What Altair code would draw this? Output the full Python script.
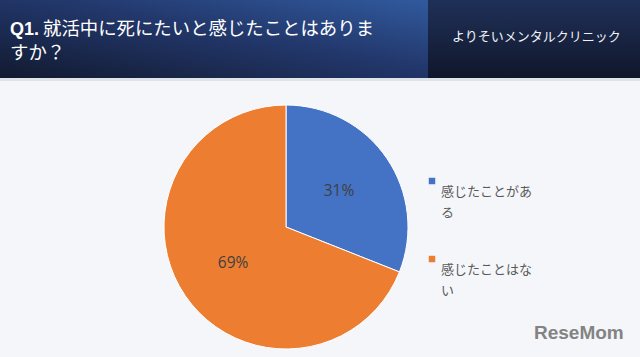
import altair as alt
import pandas as pd

# ---- data ----
categories = ["感じたことがある", "感じたことはない"]
values = [31, 69]
colors = ["#4472c4", "#ed7d31"]
title_bold = "Q1."
title_line1 = "就活中に死にたいと感じたことはありま"
title_line2 = "すか？"
source_label = "よりそいメンタルクリニック"
watermark = "ReseMom"

df = pd.DataFrame({
    "category": categories,
    "value": values,
    "order": list(range(len(categories))),
})
df["pct"] = (df["value"] / df["value"].sum() * 100).round().astype(int).astype(str) + "%"
df["wrapped"] = [c[:7] + "\n" + c[7:] for c in categories]

JP = "Noto Sans CJK JP"
CX, CY, R = 286, 227, 122

color_scale = alt.Scale(domain=categories, range=colors)

one = alt.Data(values=[{}])

# header blocks
head_left = alt.Chart(one).mark_rect(
    color=alt.LinearGradient(
        gradient="linear", x1=0, y1=1, x2=1, y2=0,
        stops=[alt.GradientStop(offset=0, color="#121a30"),
               alt.GradientStop(offset=0.55, color="#22376b"),
               alt.GradientStop(offset=1, color="#315a9e")])
).encode(x=alt.value(0), x2=alt.value(428), y=alt.value(0), y2=alt.value(78))

head_right = alt.Chart(one).mark_rect(
    color=alt.LinearGradient(
        gradient="linear", x1=0, y1=0, x2=0, y2=1,
        stops=[alt.GradientStop(offset=0, color="#1f3058"),
               alt.GradientStop(offset=1, color="#10172b")])
).encode(x=alt.value(428), x2=alt.value(640), y=alt.value(0), y2=alt.value(78))

head_line = alt.Chart(one).mark_rect(color="#dfe4ea").encode(
    x=alt.value(0), x2=alt.value(640), y=alt.value(78), y2=alt.value(81))

t_bold = alt.Chart(one).mark_text(
    text=title_bold, font="Liberation Sans", fontWeight="bold", fontSize=18,
    color="white", align="left", baseline="middle"
).encode(x=alt.value(10), y=alt.value(30))

t_line1 = alt.Chart(one).mark_text(
    text=title_line1, font=JP, fontSize=18.4, color="white",
    align="left", baseline="middle"
).encode(x=alt.value(43), y=alt.value(29))

t_line2 = alt.Chart(one).mark_text(
    text=title_line2, font=JP, fontSize=18.4, color="white",
    align="left", baseline="middle"
).encode(x=alt.value(10), y=alt.value(53))

t_source = alt.Chart(one).mark_text(
    text=source_label, font=JP, fontSize=13, color="#f0f2f6",
    align="left", baseline="middle"
).encode(x=alt.value(452), y=alt.value(37))

# pie
base = alt.Chart(df).encode(
    theta=alt.Theta("value:Q", stack=True),
    order=alt.Order("order:Q"),
)

pie = base.mark_arc(outerRadius=R, stroke="white", strokeWidth=1).encode(
    color=alt.Color("category:N", scale=color_scale, legend=None),
    x=alt.value(CX), y=alt.value(CY),
)

labels = base.mark_text(
    radius=64, font="Open Sans", fontSize=15.5, color="#404040"
).encode(text="pct:N", x=alt.value(CX), y=alt.value(CY))

# custom legend
leg_y = alt.Y("category:N", scale=alt.Scale(type="point", domain=categories,
                                              range=[181, 259], padding=0), axis=None)
leg_sq = alt.Chart(df).mark_square(size=42, opacity=1).encode(
    x=alt.value(432), y=leg_y,
    color=alt.Color("category:N", scale=color_scale, legend=None),
)
leg_txt = alt.Chart(df).mark_text(
    font=JP, fontSize=13, color="#595959", align="left", baseline="middle",
    lineBreak="\n", lineHeight=21, dy=10.5
).encode(x=alt.value(441), y=leg_y, text="wrapped:N")

wm = alt.Chart(one).mark_text(
    text=watermark, font="Liberation Sans", fontWeight="bold", fontSize=19,
    color="#707070", align="left", baseline="middle", opacity=0.85
).encode(x=alt.value(534), y=alt.value(333))

chart = alt.layer(
    head_left, head_right, head_line, t_bold, t_line1, t_line2, t_source,
    pie, labels, leg_sq, leg_txt, wm
).properties(
    width=640, height=357,
    autosize=alt.AutoSizeParams(type="none"),
    padding=0,
    background="#f4f6fa",
).configure_view(stroke=None)

chart.save("out.html", embed_options={"renderer": "svg", "actions": False})
